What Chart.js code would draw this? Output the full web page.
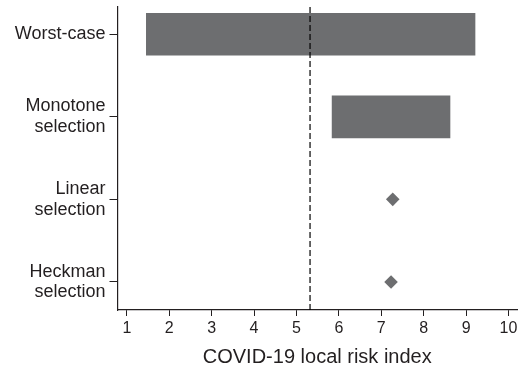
<!DOCTYPE html>
<html lang="en">

<head>
    <meta charset="UTF-8">
    <title>COVID-19 local risk index</title>
    <script src="https://cdn.jsdelivr.net/npm/chart.js"></script>
    <style>
        body { margin: 0; background: #fff; }
        #wrap { width: 525px; height: 370px; }
    </style>
</head>

<body>
    <div id="wrap">
        <canvas id="myChart"></canvas>
    </div>
    <script>
        // data
        const categories = [['Worst-case'], ['Monotone', 'selection'], ['Linear', 'selection'], ['Heckman', 'selection']];
        const intervalLow = [1.46, 5.84, null, null];
        const intervalHigh = [9.21, 8.62, null, null];
        const pointEstimate = [null, null, 7.27, 7.23];
        const referenceValue = 5.32;
        const xTicks = [1, 2, 3, 4, 5, 6, 7, 8, 9, 10];

        const grey = '#6d6e70';
        const ink = '#231f20';

        const barData = [];
        const pointData = [];
        categories.forEach((c, i) => {
            if (intervalLow[i] !== null) barData.push({ y: i + 1, x: [intervalLow[i], intervalHigh[i]] });
            if (pointEstimate[i] !== null) pointData.push({ y: i + 1, x: pointEstimate[i] });
        });

        const yMin = 0.67, yMax = 4.34;

        const data = {
            datasets: [
                {
                    type: 'bar',
                    data: barData,
                    backgroundColor: grey,
                    borderWidth: 0,
                    barThickness: 42,
                    order: 2
                },
                {
                    type: 'scatter',
                    data: pointData,
                    pointStyle: 'rectRot',
                    radius: 6.8,
                    backgroundColor: grey,
                    borderWidth: 0,
                    order: 1
                },
                {
                    type: 'line',
                    data: [{ x: referenceValue, y: yMin }, { x: referenceValue, y: yMax }],
                    borderColor: '#000',
                    borderWidth: 1.2,
                    borderDash: [6, 3],
                    pointRadius: 0,
                    order: 0
                }
            ]
        };

        const config = {
            type: 'bar',
            data,
            options: {
                indexAxis: 'y',
                responsive: true,
                maintainAspectRatio: false,
                animation: false,
                layout: {
                    padding: { top: 7, right: 8, left: 0, bottom: 0 }
                },
                scales: {
                    x: {
                        type: 'linear',
                        position: 'bottom',
                        min: 0.78,
                        max: 10.2,
                        offset: false,
                        afterBuildTicks: function (scale) {
                            scale.ticks = xTicks.map(v => ({ value: v }));
                        },
                        afterFit: function (scale) {
                            scale.height = 60;
                            scale.paddingLeft = 0;
                            scale.paddingRight = 0;
                        },
                        grid: {
                            offset: false,
                            drawOnChartArea: false,
                            drawTicks: true,
                            tickLength: 6,
                            color: ink,
                            lineWidth: 1
                        },
                        border: { display: true, color: ink, width: 1.2 },
                        ticks: {
                            color: ink,
                            padding: 3,
                            maxRotation: 0,
                            font: { family: '"Liberation Sans", Arial, sans-serif', size: 16 }
                        },
                        title: {
                            display: true,
                            text: 'COVID-19 local risk index',
                            color: ink,
                            padding: { top: 0, bottom: 1 },
                            font: { family: '"Liberation Sans", Arial, sans-serif', size: 20 }
                        }
                    },
                    y: {
                        type: 'linear',
                        position: 'left',
                        reverse: true,
                        min: yMin,
                        max: yMax,
                        offset: false,
                        afterBuildTicks: function (scale) {
                            scale.ticks = categories.map((c, i) => ({ value: i + 1 }));
                        },
                        afterFit: function (scale) {
                            scale.width = 117.5;
                            scale.paddingTop = 0;
                            scale.paddingBottom = 0;
                        },
                        grid: {
                            offset: false,
                            drawOnChartArea: false,
                            drawTicks: true,
                            tickLength: 8,
                            color: ink,
                            lineWidth: 1
                        },
                        border: { display: true, color: ink, width: 1.2 },
                        ticks: {
                            color: ink,
                            padding: 4,
                            callback: function (value) {
                                const c = categories[Math.round(value) - 1];
                                return c ? (c.length === 1 ? c[0] : c) : '';
                            },
                            font: { family: '"Liberation Sans", Arial, sans-serif', size: 18, lineHeight: 1.15 }
                        }
                    }
                },
                plugins: {
                    legend: { display: false },
                    tooltip: { enabled: false }
                }
            }
        };

        const myChart = new Chart(document.getElementById('myChart'), config);
    </script>
</body>

</html>
